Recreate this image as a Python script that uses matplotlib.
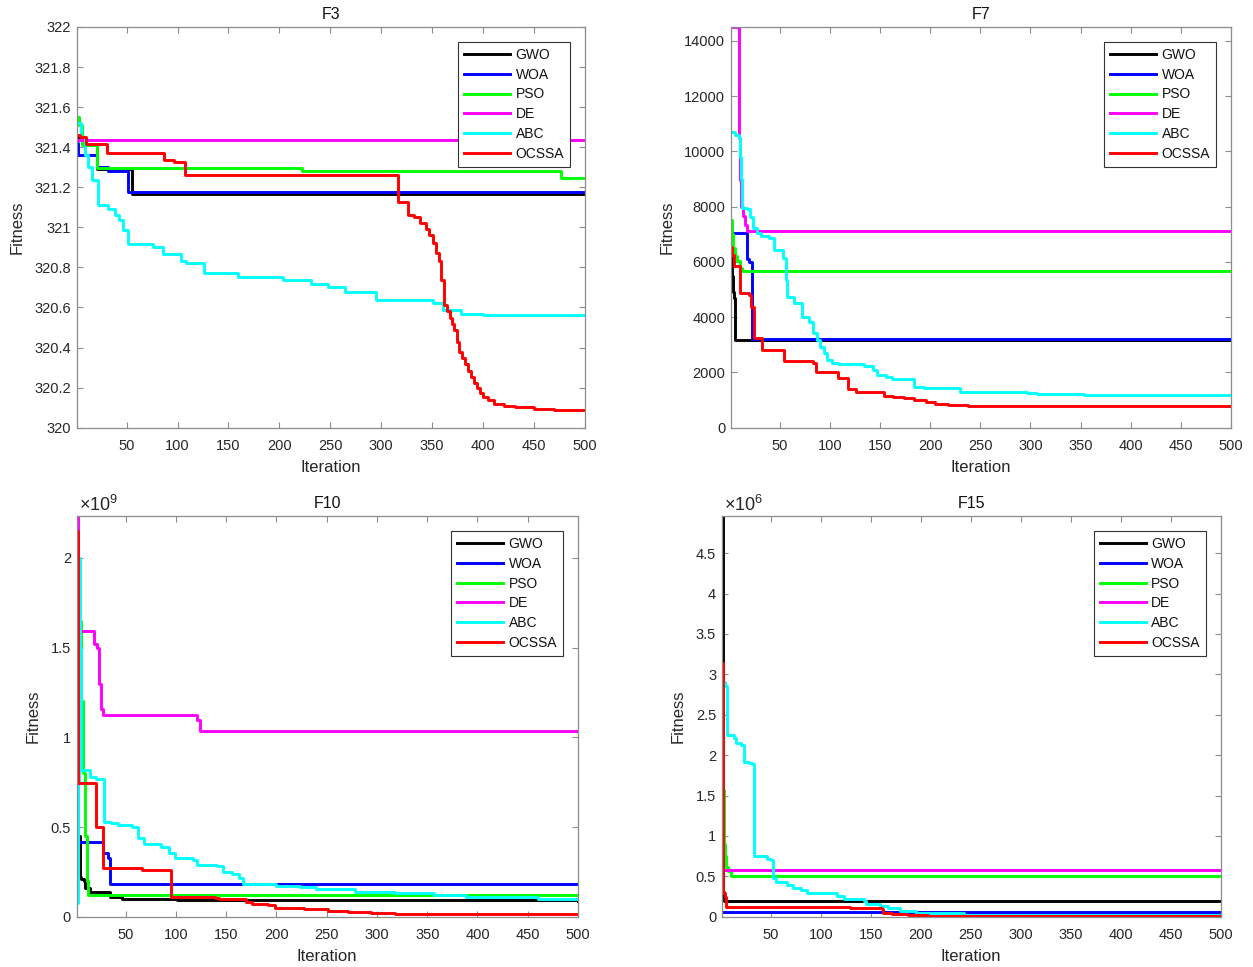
import matplotlib
matplotlib.use("Agg")
import matplotlib.pyplot as plt
from matplotlib.ticker import FuncFormatter, FixedLocator

plt.rcParams['font.family'] = ['Liberation Sans', 'DejaVu Sans']
plt.rcParams['mathtext.fontset'] = 'custom'
plt.rcParams['mathtext.rm'] = 'Liberation Sans'

algorithms = ["GWO", "WOA", "PSO", "DE", "ABC", "OCSSA"]
colors = ["#000000", "#0000ff", "#00ff00", "#ff00ff", "#00ffff", "#ff0000"]
titles = ["F3", "F7", "F10", "F15"]
x_ticks = [50, 100, 150, 200, 250, 300, 350, 400, 450, 500]

# ---------------- F3 ----------------
f3_gwo_x = [1, 8, 21, 55, 500]
f3_gwo_y = [321.45, 321.41, 321.29, 321.165, 321.165]
f3_woa_x = [1, 2, 21, 32, 51, 500]
f3_woa_y = [321.42, 321.36, 321.30, 321.28, 321.175, 321.175]
f3_pso_x = [1, 3, 6, 21, 222, 476, 500]
f3_pso_y = [321.55, 321.51, 321.41, 321.295, 321.28, 321.245, 321.245]
f3_de_x = [1, 500]
f3_de_y = [321.435, 321.435]
f3_abc_x = [1, 5, 9, 12, 16, 22, 32, 39, 43, 46, 51, 76, 86, 103, 108, 126, 159,
            204, 231, 248, 264, 295, 351, 361, 378, 400, 500]
f3_abc_y = [321.52, 321.45, 321.36, 321.30, 321.235, 321.11, 321.09, 321.06, 321.035,
            320.985, 320.915, 320.90, 320.866, 320.83, 320.82, 320.77, 320.753, 320.736,
            320.717, 320.70, 320.675, 320.637, 320.623, 320.587, 320.57, 320.565, 320.565]
f3_ocssa_x = [1, 4, 10, 31, 87, 97, 107, 316, 326, 332, 338, 344, 347, 351, 354, 357,
              359, 362, 365, 367, 369, 371, 374, 376, 379, 382, 385, 388, 391, 394, 397,
              400, 405, 411, 420, 431, 450, 470, 500]
f3_ocssa_y = [321.46, 321.45, 321.415, 321.37, 321.338, 321.327, 321.26, 321.125, 321.06,
              321.05, 321.02, 320.99, 320.96, 320.92, 320.87, 320.83, 320.735, 320.61,
              320.58, 320.55, 320.52, 320.487, 320.43, 320.38, 320.35, 320.32, 320.285,
              320.254, 320.225, 320.196, 320.175, 320.155, 320.14, 320.12, 320.11,
              320.105, 320.095, 320.09, 320.088]

# ---------------- F7 ----------------
f7_gwo_x = [1, 2, 3, 4, 5, 500]
f7_gwo_y = [6130, 5500, 4900, 4700, 3160, 3160]
f7_woa_x = [1, 17, 19, 22, 500]
f7_woa_y = [7035, 6100, 6000, 3200, 3200]
f7_pso_x = [1, 2, 3, 5, 7, 10, 12, 500]
f7_pso_y = [7520, 7000, 6500, 6200, 6050, 5770, 5680, 5680]
f7_de_x = [1, 9, 10, 11, 13, 15, 17, 500]
f7_de_y = [14500, 10500, 8950, 8000, 7650, 7350, 7130, 7130]
f7_abc_x = [1, 5, 9, 10, 11, 12, 17, 20, 23, 27, 31, 39, 44, 53, 56, 57, 64, 72, 79,
            83, 87, 90, 94, 97, 102, 108, 134, 143, 147, 156, 162, 184, 194, 230, 297,
            307, 353, 500]
f7_abc_y = [10700, 10600, 10470, 9800, 9000, 7950, 7900, 7640, 7220, 7035, 6940, 6860,
            6430, 6130, 5350, 4740, 4500, 4020, 3840, 3420, 3170, 2930, 2690, 2450, 2350,
            2300, 2245, 2090, 1910, 1820, 1760, 1490, 1424, 1303, 1243, 1207, 1180, 1180]
f7_ocssa_x = [1, 2, 4, 10, 19, 21, 24, 32, 54, 83, 86, 108, 118, 126, 154, 163, 174,
              184, 196, 205, 218, 238, 257, 300, 500]
f7_ocssa_y = [6550, 6250, 5850, 4860, 4800, 4380, 3235, 2800, 2420, 2340, 2030, 1790,
              1390, 1303, 1147, 1098, 1062, 1002, 917, 845, 821, 800, 797, 785, 784]

# ---------------- F10 ----------------
f10_gwo_x = [1, 2, 4, 5, 8, 9, 14, 34, 46, 81, 101, 300, 500]
f10_gwo_y = [0.585e9, 0.45e9, 0.22e9, 0.21e9, 0.20e9, 0.158e9, 0.139e9, 0.111e9,
             0.100e9, 0.097e9, 0.093e9, 0.091e9, 0.090e9]
f10_woa_x = [1, 2, 27, 32, 34, 500]
f10_woa_y = [1.07e9, 0.418e9, 0.353e9, 0.33e9, 0.182e9, 0.182e9]
f10_pso_x = [1, 3, 5, 7, 9, 11, 12, 500]
f10_pso_y = [1.9e9, 1.65e9, 1.2e9, 0.8e9, 0.45e9, 0.2e9, 0.12e9, 0.12e9]
f10_de_x = [1, 2, 18, 21, 23, 25, 27, 121, 124, 500]
f10_de_y = [2.23e9, 1.595e9, 1.52e9, 1.50e9, 1.30e9, 1.16e9, 1.123e9, 1.096e9,
            1.036e9, 1.036e9]
f10_abc_x = [1, 2, 3, 4, 5, 14, 20, 28, 35, 42, 56, 62, 68, 85, 93, 99, 117, 121, 141,
             147, 156, 163, 167, 200, 223, 239, 278, 318, 357, 389, 460, 500]
f10_abc_y = [0.075e9, 0.75e9, 2.0e9, 1.5e9, 0.82e9, 0.78e9, 0.77e9, 0.53e9, 0.52e9,
             0.51e9, 0.50e9, 0.436e9, 0.408e9, 0.39e9, 0.353e9, 0.325e9, 0.316e9,
             0.288e9, 0.282e9, 0.25e9, 0.24e9, 0.214e9, 0.18e9, 0.171e9, 0.163e9,
             0.152e9, 0.139e9, 0.13e9, 0.121e9, 0.111e9, 0.099e9, 0.099e9]
f10_ocssa_x = [1, 2, 20, 27, 66, 95, 139, 143, 170, 176, 192, 199, 227, 251, 271, 294,
               318, 500]
f10_ocssa_y = [2.15e9, 0.745e9, 0.502e9, 0.27e9, 0.258e9, 0.108e9, 0.105e9, 0.098e9,
               0.084e9, 0.07e9, 0.065e9, 0.05e9, 0.045e9, 0.033e9, 0.025e9, 0.019e9,
               0.015e9, 0.015e9]

# ---------------- F15 ----------------
f15_gwo_x = [1, 2, 3, 500]
f15_gwo_y = [4.96e6, 0.3e6, 0.194e6, 0.194e6]
f15_woa_x = [1, 500]
f15_woa_y = [0.062e6, 0.062e6]
f15_pso_x = [1, 2, 3, 4, 5, 7, 10, 500]
f15_pso_y = [2.2e6, 1.57e6, 0.9e6, 0.75e6, 0.62e6, 0.56e6, 0.505e6, 0.505e6]
f15_de_x = [1, 500]
f15_de_y = [0.578e6, 0.578e6]
f15_abc_x = [1, 4, 6, 13, 15, 20, 23, 28, 31, 33, 46, 50, 52, 55, 66, 72, 80, 86, 116,
             123, 143, 145, 159, 167, 179, 195, 227, 243, 500]
f15_abc_y = [2.91e6, 2.85e6, 2.25e6, 2.21e6, 2.147e6, 2.12e6, 1.92e6, 1.9e6, 1.89e6,
             0.75e6, 0.72e6, 0.70e6, 0.475e6, 0.433e6, 0.39e6, 0.36e6, 0.33e6, 0.297e6,
             0.256e6, 0.215e6, 0.198e6, 0.157e6, 0.136e6, 0.103e6, 0.074e6, 0.05e6,
             0.041e6, 0.02e6, 0.015e6]
f15_ocssa_x = [1, 2, 4, 5, 129, 161, 162, 171, 187, 207, 500]
f15_ocssa_y = [3.14e6, 0.289e6, 0.25e6, 0.116e6, 0.105e6, 0.09e6, 0.05e6, 0.035e6,
               0.02e6, 0.01e6, 0.005e6]

panels = [
    [(f3_gwo_x, f3_gwo_y), (f3_woa_x, f3_woa_y), (f3_pso_x, f3_pso_y),
     (f3_de_x, f3_de_y), (f3_abc_x, f3_abc_y), (f3_ocssa_x, f3_ocssa_y)],
    [(f7_gwo_x, f7_gwo_y), (f7_woa_x, f7_woa_y), (f7_pso_x, f7_pso_y),
     (f7_de_x, f7_de_y), (f7_abc_x, f7_abc_y), (f7_ocssa_x, f7_ocssa_y)],
    [(f10_gwo_x, f10_gwo_y), (f10_woa_x, f10_woa_y), (f10_pso_x, f10_pso_y),
     (f10_de_x, f10_de_y), (f10_abc_x, f10_abc_y), (f10_ocssa_x, f10_ocssa_y)],
    [(f15_gwo_x, f15_gwo_y), (f15_woa_x, f15_woa_y), (f15_pso_x, f15_pso_y),
     (f15_de_x, f15_de_y), (f15_abc_x, f15_abc_y), (f15_ocssa_x, f15_ocssa_y)],
]

ylims = [(320, 322), (0, 14500), (0, 2.234e9), (0, 4.96e6)]
yticks = [
    [320, 320.2, 320.4, 320.6, 320.8, 321, 321.2, 321.4, 321.6, 321.8, 322],
    [0, 2000, 4000, 6000, 8000, 10000, 12000, 14000],
    [0, 0.5e9, 1e9, 1.5e9, 2e9],
    [0, 0.5e6, 1e6, 1.5e6, 2e6, 2.5e6, 3e6, 3.5e6, 4e6, 4.5e6],
]
scales = [1, 1, 1e9, 1e6]
exponents = [None, None, 9, 6]

W, H = 1253, 967
boxes_px = [
    (76.7, 27.0, 585.0, 427.7),
    (730.7, 27.0, 1231.0, 427.7),
    (76.5, 516.0, 578.0, 916.7),
    (721.7, 516.0, 1220.7, 916.7),
]

fig = plt.figure(figsize=(W / 100, H / 100), dpi=100)
spine_col = "#8c8c8c"
text_col = "#262626"

for i in range(4):
    l, t, r, b = boxes_px[i]
    ax = fig.add_axes([l / W, 1 - b / H, (r - l) / W, (b - t) / H])
    handles = []
    for (xs, ys), name, col in zip(panels[i], algorithms, colors):
        h, = ax.step(xs, ys, where='post', color=col, lw=2.1, label=name)
        handles.append(h)
    ax.set_xlim(1, 500)
    ax.set_ylim(*ylims[i])
    ax.xaxis.set_major_locator(FixedLocator(x_ticks))
    ax.yaxis.set_major_locator(FixedLocator(yticks[i]))
    sc = scales[i]
    ax.yaxis.set_major_formatter(FuncFormatter(lambda v, p, sc=sc: '%g' % round(v / sc, 6)))
    ax.xaxis.set_major_formatter(FuncFormatter(lambda v, p: '%g' % v))
    ax.tick_params(direction='in', length=4, width=0.8, color=spine_col,
                   labelsize=10.5, labelcolor=text_col, top=True, right=True, pad=4)
    ax.tick_params(axis='x', pad=8)
    for sp in ax.spines.values():
        sp.set_color(spine_col)
        sp.set_linewidth(0.9)
    ax.set_title(titles[i], fontsize=11.5, color="#111111", pad=6)
    ax.set_xlabel("Iteration", fontsize=12, color=text_col, labelpad=5)
    ax.set_ylabel("Fitness", fontsize=12, color=text_col, labelpad=7)
    if exponents[i] is not None:
        ax.text(0.004, 1.002, r'$\times\mathregular{10^{%d}}$' % exponents[i],
                transform=ax.transAxes, ha='left', va='bottom', fontsize=13,
                color=text_col)
    leg = ax.legend(handles=handles, loc='upper right', fontsize=10, frameon=True,
                    fancybox=False, shadow=False, framealpha=1, edgecolor="#333333",
                    handlelength=3.3, handletextpad=0.4, labelspacing=0.42,
                    borderpad=0.45, borderaxespad=1.05)
    leg.get_frame().set_linewidth(0.8)
    for txt in leg.get_texts():
        txt.set_color("#111111")

fig.savefig("out.png", dpi=100)
